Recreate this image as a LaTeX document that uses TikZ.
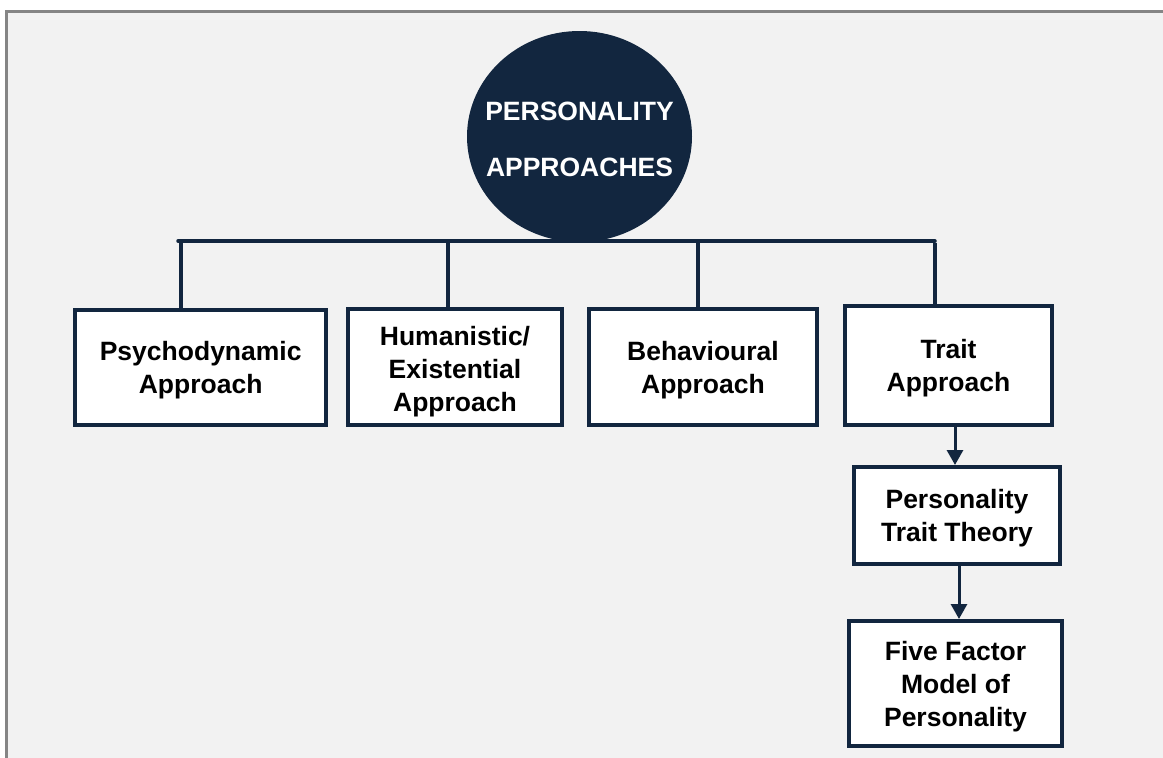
\documentclass[tikz,border=0pt]{standalone}
\usepackage{fontspec}
\setmainfont{Liberation Sans}
\usetikzlibrary{shapes.geometric,arrows.meta}
\definecolor{navy}{HTML}{12263F}
\definecolor{bgc}{HTML}{F2F2F2}
\definecolor{framec}{HTML}{858585}
\tikzset{
  boxtext/.style={text=black, align=center, font=\fontsize{26.5}{33}\selectfont\bfseries, inner sep=0pt},
  boxnode/.style={draw=navy, line width=4pt, fill=white, rectangle, inner sep=0pt,
    label={[boxtext, yshift=-3pt]center:#1}},
  boxnodeb/.style={draw=navy, line width=4pt, fill=white, rectangle, inner sep=0pt,
    label={[boxtext, yshift=-4.5pt]center:#1}},
  conn/.style={draw=navy, line width=3.5pt},
  arr/.style={draw=navy, line width=3pt, -{Triangle[width=16pt,length=15pt]}, fill=navy},
}
\begin{document}
\begin{tikzpicture}[x=1pt,y=-1pt]
\useasboundingbox (0,0) rectangle (1163,758);
\clip (0,0) rectangle (1163,758);
\fill[white] (0,0) rectangle (1163,758);
\draw[draw=framec, fill=bgc, line width=3.2pt] (6.8,11.5) rectangle (1180,780);

% central ellipse
\node[ellipse, fill=navy, minimum width=225pt, minimum height=211pt, inner sep=0pt,
  label={[text=white, align=center, font=\fontsize{26.5}{56}\selectfont\bfseries, yshift=-3pt]center:PERSONALITY\\APPROACHES}]
  (root) at (579.5,136.5) {};

% boxes
\node[boxnode={Psychodynamic\\Approach}, minimum width=250.7pt, minimum height=115pt] (b1) at (200.7,367.5) {};
\node[boxnodeb={Humanistic/\\Existential\\Approach}, minimum width=214pt, minimum height=116pt] (b2) at (455,367) {};
\node[boxnode={Behavioural\\Approach}, minimum width=228pt, minimum height=116pt] (b3) at (703,367) {};
\node[boxnode={Trait\\Approach}, minimum width=207pt, minimum height=119pt] (b4) at (948.5,365.5) {};
\node[boxnode={Personality\\Trait Theory}, minimum width=206pt, minimum height=97pt] (b5) at (957,515.5) {};
\node[boxnode={Five Factor\\Model of\\Personality}, minimum width=213pt, minimum height=125pt] (b6) at (955.5,683.5) {};

% bus
\coordinate (hL) at (178,241);
\coordinate (h1) at (181,241);
\coordinate (h2) at (448,241);
\coordinate (h3) at (698,241);
\coordinate (h4) at (935,241);
\draw[conn, line cap=round] (hL) -- (h4);
\draw[conn] (h1) -- (h1 |- b1.north);
\draw[conn] (h2) -- (h2 |- b2.north);
\draw[conn] (h3) -- (h3 |- b3.north);
\draw[conn] ([yshift=-1.75pt]h4) -- (h4 |- b4.north);

% arrows
\coordinate (a1) at (955,0);
\coordinate (a2) at (959,0);
\draw[arr] (b4.south -| a1) -- (b5.north -| a1);
\draw[arr] (b5.south -| a2) -- (b6.north -| a2);
\end{tikzpicture}
\end{document}
